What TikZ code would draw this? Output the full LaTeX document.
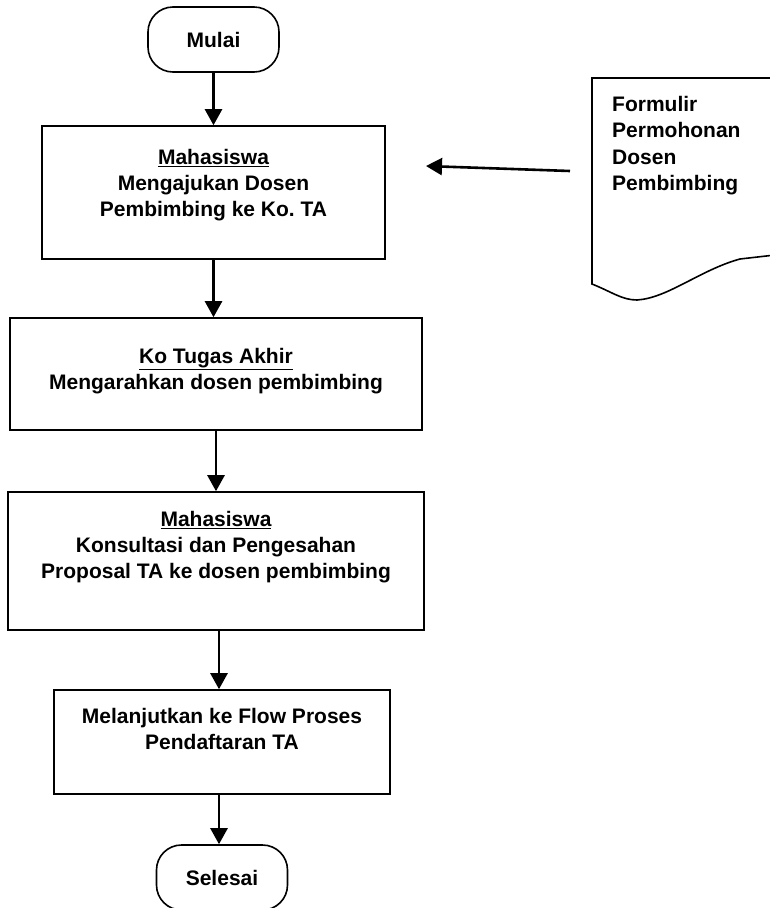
\documentclass[tikz,border=0pt]{standalone}
\usepackage{fontspec}
\setmainfont{Liberation Sans}
\usepackage{tikz}
\usetikzlibrary{arrows.meta, positioning, shapes.misc}
\frenchspacing
\tikzstyle{terminal} = [rectangle, rounded corners=25pt, minimum width=131pt, minimum height=65pt, text centered, draw=black, line width=1.6pt]
\tikzstyle{kotak} = [rectangle, inner sep=0pt, draw=black, line width=1.6pt]
\tikzstyle{arrow} = [line width=2.6pt, -{Triangle[length=16pt,width=17pt]}]
\newcommand{\isikotak}[4]{\parbox[c][#2][t]{#1}{\centering\vspace*{#3}#4}}
\def\huruf{\bfseries\fontsize{21}{26}\selectfont}

\begin{document}
\begin{tikzpicture}[x=1pt, y=-1pt, font=\huruf]
\useasboundingbox (0,0) rectangle (770,908);

\node (mulai) [terminal] at (213.5,39.5) {Mulai};

\node (box1) [kotak] at (213.5,192.5) {\isikotak{343pt}{133pt}{23pt}{\underline{Mahasiswa}\\Mengajukan Dosen\\Pembimbing ke Ko. TA}};
\draw [arrow] (mulai) -- (box1);

\node (box2) [kotak] at (216,374) {\isikotak{412pt}{112pt}{30pt}{\underline{Ko Tugas Akhir}\\Mengarahkan dosen pembimbing}};
\draw [arrow] (box1.south) -- (box1.south |- box2.north);

\node (box3) [kotak] at (216,561) {\isikotak{416pt}{138pt}{19pt}{\underline{Mahasiswa}\\Konsultasi dan Pengesahan\\Proposal TA ke dosen pembimbing}};
\draw [arrow] (box2.south) -- (box2.south |- box3.north);

\node (box4) [kotak] at (222,742) {\isikotak{336pt}{104pt}{18pt}{Melanjutkan ke Flow Proses\\Pendaftaran TA}};
\draw [arrow] ([xshift=3pt]box3.south) -- ([xshift=3pt]box3.south |- box4.north);

\node (selesai) [terminal] at (222,877.5) {Selesai};
\draw [arrow] ([xshift=-3pt]selesai.north |- box4.south) -- ([xshift=-3pt]selesai.north);

% dokumen formulir
\draw [line width=1.6pt] (775,78) -- (592,78) -- (592,284)
  .. controls (612,292) and (622,300) .. (637,300)
  .. controls (668,298) and (700,270) .. (740,259) -- (775,255);
\node (formteks) [anchor=north west, align=left, inner sep=0pt, font=\bfseries\fontsize{21}{26.5}\selectfont] at (612,96) {Formulir\\Permohonan\\Dosen\\Pembimbing};

\coordinate (formulir) at (570,171);
\coordinate (masuk) at (426,166);
\draw [arrow] (formulir) -- (masuk);

\end{tikzpicture}
\end{document}
